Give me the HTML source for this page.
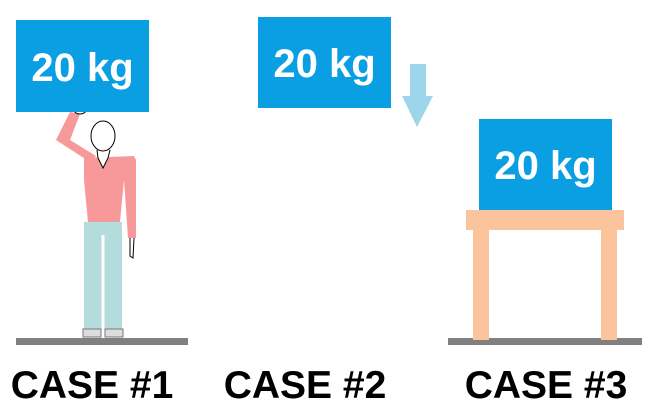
<!DOCTYPE html>
<html><head><meta charset="utf-8"><style>
html,body{margin:0;padding:0;background:#fff;width:646px;height:404px;overflow:hidden}
svg{display:block}
text{font-family:"Liberation Sans",Arial,sans-serif;font-weight:bold}
</style></head><body>
<svg width="646" height="404" viewBox="0 0 646 404">
<g>
<rect x="16" y="338" width="172" height="7" fill="#808080"/>
<g>
<rect x="84" y="222" width="38" height="110" fill="#b5dcdc"/>
<line x1="103" y1="235" x2="103" y2="332" stroke="#fff" stroke-width="3"/>
<rect x="83" y="329" width="18" height="8" fill="#ddd" stroke="#777" stroke-width="1"/>
<rect x="105" y="329" width="18" height="8" fill="#ddd" stroke="#777" stroke-width="1"/>
<path d="M84 158 L134 156 L136 160 L136 238 L128 238 L124 180 L120 222 L88 222 L84 180 Z" fill="#f7999a"/>
<path d="M90 162 L56 140 L70 112 L80 114 L70 140 L96 156 Z" fill="#f7999a"/>
<ellipse cx="80" cy="110" rx="6" ry="4" fill="#fff" stroke="#000" stroke-width="1"/>
<path d="M97 150 L98 158 L103 168 L108 158 L110 150" fill="#fff" stroke="#000" stroke-width="1"/>
<ellipse cx="103" cy="136" rx="12" ry="15" fill="#fff" stroke="#000" stroke-width="1"/>
<path d="M130 238 L130 256 L133 258 L134 238" fill="#fff" stroke="#000" stroke-width="1"/>
</g>
<rect x="16" y="20" width="133" height="92" fill="#0a9ee2"/>
<text x="82.5" y="81" font-size="40" fill="#fff" text-anchor="middle">20 kg</text>
<text x="92" y="398" font-size="39" fill="#000" text-anchor="middle">CASE #1</text>
</g>
<g>
<rect x="258" y="17" width="133" height="91" fill="#0a9ee2"/>
<text x="324.5" y="77" font-size="40" fill="#fff" text-anchor="middle">20 kg</text>
<path d="M410 64 L426 64 L426 96 L433 96 L417 127 L402 96 L410 96 Z" fill="#9dd6ea"/>
<text x="305" y="398" font-size="39" fill="#000" text-anchor="middle">CASE #2</text>
</g>
<g>
<rect x="448" y="338" width="194" height="7" fill="#808080"/>
<g>
<rect x="466" y="210" width="158" height="20" fill="#fcc49c"/>
<rect x="473" y="228" width="16" height="112" fill="#fcc49c"/>
<rect x="601" y="228" width="16" height="112" fill="#fcc49c"/>
</g>
<rect x="479" y="119" width="133" height="91" fill="#0a9ee2"/>
<text x="545.5" y="179" font-size="40" fill="#fff" text-anchor="middle">20 kg</text>
<text x="546" y="398" font-size="39" fill="#000" text-anchor="middle">CASE #3</text>
</g>
</svg>
</body></html>
